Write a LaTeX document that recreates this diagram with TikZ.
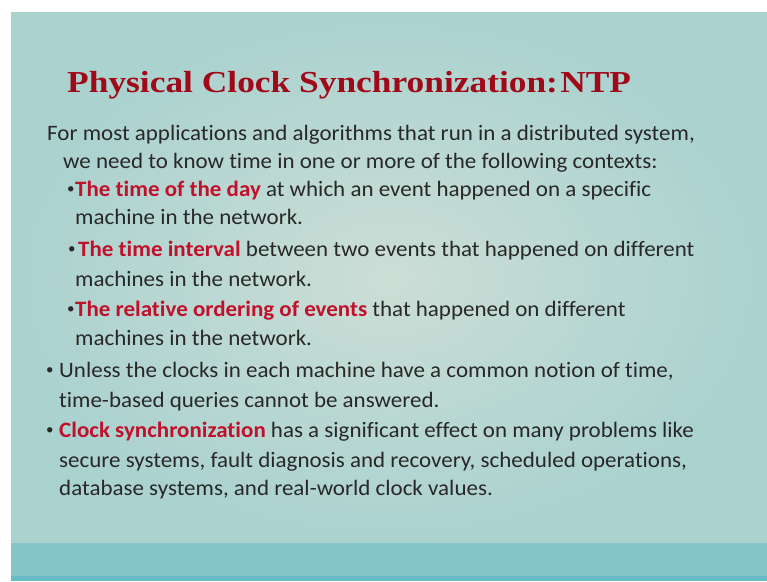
\documentclass[tikz,border=0pt]{standalone}
\usepackage{fontspec}
\setmainfont{Carlito}[Ligatures=CommonOff]
\newfontfamily\titlefont{Liberation Serif}
\definecolor{bgin}{HTML}{CCDED6}
\definecolor{bgout}{HTML}{AAD2CF}
\definecolor{barc}{HTML}{84C5C9}
\definecolor{stripc}{HTML}{66BBC6}
\definecolor{titlec}{HTML}{A00A18}
\definecolor{hl}{HTML}{C0102C}
\definecolor{txt}{HTML}{282828}
\tikzset{
  body/.style={anchor=base west, inner sep=0pt, text=txt, xscale=1.045, font=\fontsize{22}{26}\selectfont},
  bul/.style={anchor=base west, inner sep=0pt, text=txt, font=\fontsize{15}{15}\selectfont},
  ttl/.style={anchor=base west, inner sep=0pt, text=titlec, xscale=1.16, font=\titlefont\bfseries\fontsize{30.5}{36}\selectfont}
}
\newcommand{\hlt}[1]{{\bfseries\color{hl}#1}}
\newcommand{\bdot}{\raisebox{3pt}{•}}
\begin{document}
\begin{tikzpicture}[x=1pt,y=-1pt]
\useasboundingbox (0,0) rectangle (767,581);
\fill[white] (0,0) rectangle (767,581);
\shade[inner color=bgin, outer color=bgout] (11,12) rectangle (767,543);
\fill[barc] (11,543) rectangle (767,576);
\fill[stripc] (11,576) rectangle (767,581);

\node[ttl] (title) at (67,92) {Physical Clock Synchronization:\hspace{2pt}NTP};

\node[body] (l1) at (47,140) {For most applications and algorithms that run in a distributed system,};
\node[body] (l2) at (63,168) {we need to know time in one or more of the following contexts:};
\node[bul] (b1) at (67,196) {\bdot};
\node[body] (l3) at (75,196) {\hlt{The time of the day} at which an event happened on a specific};
\node[body] (l4) at (75,224) {machine in the network.};
\node[bul] (b2) at (68,256) {\bdot};
\node[body] (l5) at (78,256) {\hlt{The time interval} between two events that happened on different};
\node[body] (l6) at (75,286) {machines in the network.};
\node[bul] (b3) at (67,316) {\bdot};
\node[body] (l7) at (75,316) {\hlt{The relative ordering of events} that happened on different};
\node[body] (l8) at (75,345) {machines in the network.};
\node[bul] (b4) at (46,377) {\bdot};
\node[body] (l9) at (59,377) {Unless the clocks in each machine have a common notion of time,};
\node[body] (l10) at (59,407) {time-based queries cannot be answered.};
\node[bul] (b5) at (46,437) {\bdot};
\node[body] (l11) at (59,437) {\hlt{Clock synchronization} has a significant effect on many problems like};
\node[body] (l12) at (59,467) {secure systems, fault diagnosis and recovery, scheduled operations,};
\node[body] (l13) at (59,495) {database systems, and real-world clock values.};
\end{tikzpicture}
\end{document}
